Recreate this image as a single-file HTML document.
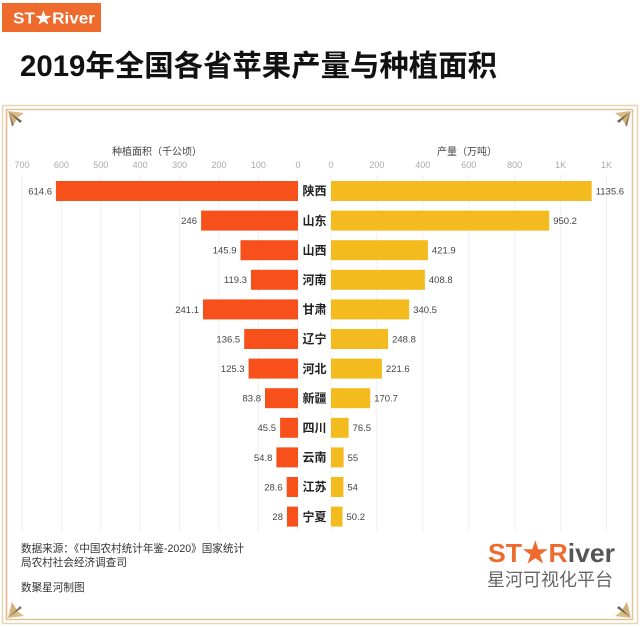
<!DOCTYPE html>
<html><head><meta charset="utf-8"><style>
html,body{margin:0;padding:0;background:#fff;width:640px;height:627px;overflow:hidden}
svg{display:block}
text{font-family:"Liberation Sans","Noto Sans CJK SC",sans-serif}
</style></head><body>
<svg width="640" height="627" viewBox="0 0 640 627" xmlns="http://www.w3.org/2000/svg">
<rect x="0" y="0" width="640" height="627" fill="#fff"/>
<!-- top logo -->
<rect x="2" y="3" width="99" height="29" fill="#ee6b2d"/>
<text x="13" y="23.5" font-size="16" font-weight="bold" fill="#fff" textLength="82" lengthAdjust="spacingAndGlyphs">ST★River</text>
<!-- title -->
<text x="20" y="76" font-size="29.5" font-weight="bold" fill="#111" textLength="477" lengthAdjust="spacingAndGlyphs">2019年全国各省苹果产量与种植面积</text>
<!-- frame -->
<rect x="2.5" y="105.5" width="635" height="518" fill="none" stroke="#e6d6b4" stroke-width="1.5"/>
<rect x="6.5" y="109.5" width="626" height="510" fill="none" stroke="#dcc39a" stroke-width="1.5"/>
<line x1="6.5" y1="110" x2="6.5" y2="619" stroke="#ebb993" stroke-width="1.5"/>
<!-- corner decorations -->
<g>
<polygon points="8,111 24,113 16,119" fill="#d9bb85"/>
<polygon points="8,111 12,127 17,119" fill="#d2b27a"/>
<polygon points="9,112 22,121 20,123" fill="#6f6253"/>
<polygon points="9,112 14,125 12,126" fill="#8a7b68"/>
</g>
<g>
<polygon points="631,111 615,113 623,119" fill="#d9bb85"/>
<polygon points="631,111 627,127 622,119" fill="#d2b27a"/>
<polygon points="630,112 617,121 619,123" fill="#6f6253"/>
<polygon points="630,112 625,125 627,126" fill="#8a7b68"/>
</g>
<g>
<polygon points="8,618 24,616 16,610" fill="#d9bb85"/>
<polygon points="8,618 12,602 17,610" fill="#d2b27a"/>
<polygon points="9,617 22,608 20,606" fill="#8a7b68"/>
</g>
<g>
<polygon points="631,618 615,616 623,610" fill="#d9bb85"/>
<polygon points="631,618 627,602 622,610" fill="#d2b27a"/>
<polygon points="630,617 617,608 619,606" fill="#6f6253"/>
</g>
<!-- gridlines -->
<g stroke="#f1f1f1" stroke-width="1">
<line x1="22" y1="175" x2="22" y2="532"/>
<line x1="61.4" y1="175" x2="61.4" y2="532"/>
<line x1="100.8" y1="175" x2="100.8" y2="532"/>
<line x1="140.2" y1="175" x2="140.2" y2="532"/>
<line x1="179.6" y1="175" x2="179.6" y2="532"/>
<line x1="219" y1="175" x2="219" y2="532"/>
<line x1="258.4" y1="175" x2="258.4" y2="532"/>
<line x1="298" y1="175" x2="298" y2="532"/>
<line x1="331" y1="175" x2="331" y2="532"/>
<line x1="376.9" y1="175" x2="376.9" y2="532"/>
<line x1="422.8" y1="175" x2="422.8" y2="532"/>
<line x1="468.8" y1="175" x2="468.8" y2="532"/>
<line x1="514.7" y1="175" x2="514.7" y2="532"/>
<line x1="560.6" y1="175" x2="560.6" y2="532"/>
<line x1="606.5" y1="175" x2="606.5" y2="532"/>
</g>
<!-- axis titles -->
<text x="157" y="155" font-size="10" fill="#444" text-anchor="middle">种植面积（千公顷）</text>
<text x="467" y="155" font-size="10" fill="#444" text-anchor="middle">产量（万吨）</text>
<!-- tick labels -->
<g font-size="9" fill="#aaa" text-anchor="middle">
<text x="22" y="168">700</text>
<text x="61.4" y="168">600</text>
<text x="100.8" y="168">500</text>
<text x="140.2" y="168">400</text>
<text x="179.6" y="168">300</text>
<text x="219" y="168">200</text>
<text x="258.4" y="168">100</text>
<text x="298" y="168">0</text>
<text x="331" y="168">0</text>
<text x="376.9" y="168">200</text>
<text x="422.8" y="168">400</text>
<text x="468.8" y="168">600</text>
<text x="514.7" y="168">800</text>
<text x="560.6" y="168">1K</text>
<text x="606.5" y="168">1K</text>
</g>
<!-- bars -->
<g fill="#f7501a">
<rect x="55.9" y="181" width="242.1" height="20"/>
<rect x="201.1" y="210.6" width="96.9" height="20"/>
<rect x="240.5" y="240.2" width="57.5" height="20"/>
<rect x="251" y="269.8" width="47" height="20"/>
<rect x="203" y="299.4" width="95" height="20"/>
<rect x="244.2" y="329" width="53.8" height="20"/>
<rect x="248.6" y="358.6" width="49.4" height="20"/>
<rect x="265" y="388.2" width="33" height="20"/>
<rect x="280.1" y="417.8" width="17.9" height="20"/>
<rect x="276.4" y="447.4" width="21.6" height="20"/>
<rect x="286.7" y="477" width="11.3" height="20"/>
<rect x="287" y="506.6" width="11" height="20"/>
</g>
<g fill="#f4bb1e">
<rect x="331" y="181" width="260.7" height="20"/>
<rect x="331" y="210.6" width="218.2" height="20"/>
<rect x="331" y="240.2" width="96.9" height="20"/>
<rect x="331" y="269.8" width="93.9" height="20"/>
<rect x="331" y="299.4" width="78.2" height="20"/>
<rect x="331" y="329" width="57.1" height="20"/>
<rect x="331" y="358.6" width="50.9" height="20"/>
<rect x="331" y="388.2" width="39.2" height="20"/>
<rect x="331" y="417.8" width="17.6" height="20"/>
<rect x="331" y="447.4" width="12.6" height="20"/>
<rect x="331" y="477" width="12.4" height="20"/>
<rect x="331" y="506.6" width="11.5" height="20"/>
</g>
<!-- left values -->
<g font-size="9.5" fill="#444" text-anchor="end">
<text x="52" y="194.5">614.6</text>
<text x="197" y="224">246</text>
<text x="236.5" y="253.6">145.9</text>
<text x="247" y="283.2">119.3</text>
<text x="199" y="312.8">241.1</text>
<text x="240.2" y="342.4">136.5</text>
<text x="244.6" y="372">125.3</text>
<text x="261" y="401.6">83.8</text>
<text x="276" y="431.2">45.5</text>
<text x="272.4" y="460.8">54.8</text>
<text x="282.7" y="490.4">28.6</text>
<text x="283" y="520">28</text>
</g>
<!-- right values -->
<g font-size="9.5" fill="#444">
<text x="595.7" y="194.5">1135.6</text>
<text x="553.2" y="224">950.2</text>
<text x="431.9" y="253.6">421.9</text>
<text x="428.9" y="283.2">408.8</text>
<text x="413.2" y="312.8">340.5</text>
<text x="392.1" y="342.4">248.8</text>
<text x="385.9" y="372">221.6</text>
<text x="374.2" y="401.6">170.7</text>
<text x="352.6" y="431.2">76.5</text>
<text x="347.6" y="460.8">55</text>
<text x="347.4" y="490.4">54</text>
<text x="346.5" y="520">50.2</text>
</g>
<!-- province labels -->
<g font-size="12" font-weight="bold" fill="#222" text-anchor="middle">
<text x="314.5" y="195.2">陕西</text>
<text x="314.5" y="224.8">山东</text>
<text x="314.5" y="254.4">山西</text>
<text x="314.5" y="284">河南</text>
<text x="314.5" y="313.6">甘肃</text>
<text x="314.5" y="343.2">辽宁</text>
<text x="314.5" y="372.8">河北</text>
<text x="314.5" y="402.4">新疆</text>
<text x="314.5" y="432">四川</text>
<text x="314.5" y="461.6">云南</text>
<text x="314.5" y="491.2">江苏</text>
<text x="314.5" y="520.8">宁夏</text>
</g>
<!-- footer -->
<g font-size="10.6" fill="#333">
<text x="21" y="552">数据来源：《中国农村统计年鉴-2020》国家统计</text>
<text x="21" y="566">局农村社会经济调查司</text>
<text x="21" y="591">数聚星河制图</text>
</g>
<!-- bottom logo -->
<text x="488" y="562" font-size="26" font-weight="bold" textLength="127" lengthAdjust="spacingAndGlyphs"><tspan fill="#ee6b2d">ST★R</tspan><tspan fill="#555">iver</tspan></text>
<text x="487" y="586" font-size="18" fill="#666" textLength="126" lengthAdjust="spacingAndGlyphs">星河可视化平台</text>
</svg>
</body></html>
